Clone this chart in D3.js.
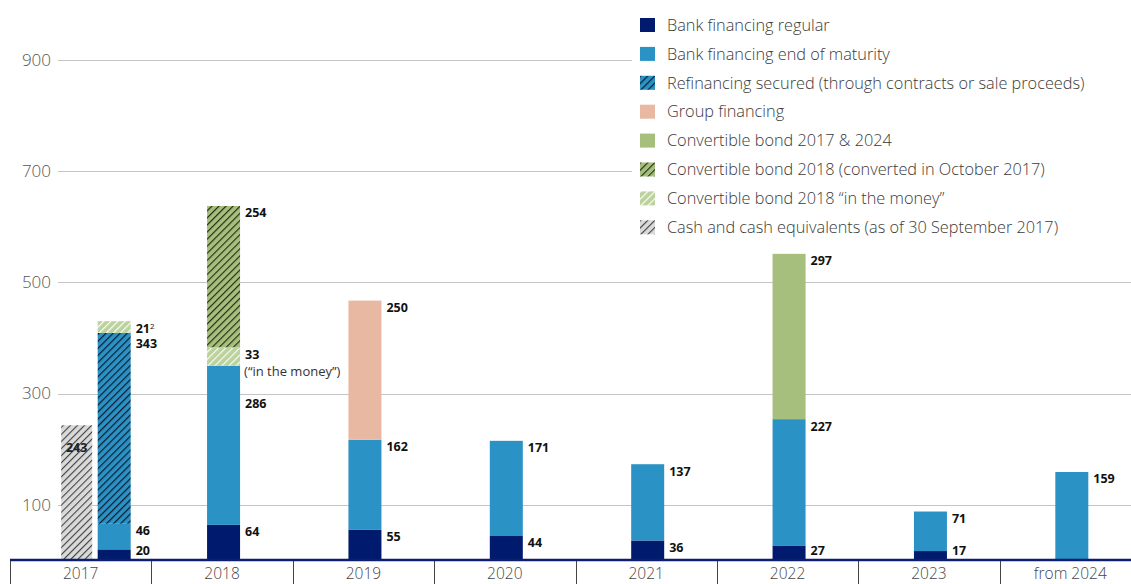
<!DOCTYPE html>
<html>
<head>
<meta charset="utf-8">
<script src="https://cdn.jsdelivr.net/npm/d3@7"></script>
<style>
  body { margin: 0; background: #fff; }
  svg { display: block; font-family: "Open Sans", sans-serif; }
</style>
</head>
<body>
<svg width="1131" height="584"></svg>
<script>
// categories (maturity years)
var categories = ["2017", "2018", "2019", "2020", "2021", "2022", "2023", "from 2024"];

// series values (EUR m), stacked bottom -> top
var bankRegular   = [20, 64, 55, 44, 36, 27, 17, 0];
var bankMaturity  = [46, 286, 162, 171, 137, 227, 71, 159];
var refinancing   = [343, 0, 0, 0, 0, 0, 0, 0];
var groupFin      = [0, 0, 250, 0, 0, 0, 0, 0];
var convInMoney   = [21, 33, 0, 0, 0, 0, 0, 0];
var convConverted = [0, 254, 0, 0, 0, 0, 0, 0];
var convBond      = [0, 0, 0, 0, 0, 297, 0, 0];
// separate bar in 2017
var cash = [243, 0, 0, 0, 0, 0, 0, 0];

var yTicks = [100, 300, 500, 700, 900];

var legendNames = [
    "Bank financing regular",
    "Bank financing end of maturity",
    "Refinancing secured (through contracts or sale proceeds)",
    "Group financing",
    "Convertible bond 2017 & 2024",
    "Convertible bond 2018 (converted in October 2017)",
    "Convertible bond 2018 \u201cin the money\u201d",
    "Cash and cash equivalents (as of 30 September 2017)"
];

var svg = d3.select("svg");
var defs = svg.append("defs");

// hatch patterns
function hatch(id, bg, lineColor, w) {
    var p = defs.append("pattern")
        .attr("id", id)
        .attr("patternUnits", "userSpaceOnUse")
        .attr("width", 5).attr("height", 5)
        .attr("patternTransform", "rotate(45)");
    p.append("rect").attr("width", 5).attr("height", 5).attr("fill", bg);
    p.append("line").attr("x1", 0.6).attr("y1", 0).attr("x2", 0.6).attr("y2", 5)
        .attr("stroke", lineColor).attr("stroke-width", w);
}
hatch("h-refi", "#2a92c4", "#0b1a30", 1.2);
hatch("h-conv", "#a6bf7c", "#1c2410", 1.1);
hatch("h-money", "#bcd29c", "#ffffff", 1.1);
hatch("h-cash", "#dadada", "#333333", 1);

var series = [
    { key: "regular",   values: bankRegular,   fill: "#001b6e" },
    { key: "maturity",  values: bankMaturity,  fill: "#2a92c4" },
    { key: "refi",      values: refinancing,   fill: "url(#h-refi)" },
    { key: "group",     values: groupFin,      fill: "#e8b8a3" },
    { key: "inmoney",   values: convInMoney,   fill: "url(#h-money)" },
    { key: "converted", values: convConverted, fill: "url(#h-conv)" },
    { key: "bond",      values: convBond,      fill: "#a6bf7c" }
];
var legendFills = ["#001b6e", "#2a92c4", "url(#h-refi)", "#e8b8a3", "#a6bf7c", "url(#h-conv)", "url(#h-money)", "url(#h-cash)"];

// scales
var x = d3.scaleBand().domain(categories).range([10, 1141]).padding(0);
var y = d3.scaleLinear().domain([0, 900]).range([560.5, 59.6]);
var barW = 33;

function barX(cat) {
    if (cat === "2017") return x(cat) + x.bandwidth() / 2 + 17;
    return x(cat) + x.bandwidth() / 2 - 15;
}

// gridlines + y labels
var grid = svg.append("g");
grid.selectAll("line").data(yTicks).enter().append("line")
    .attr("x1", 58).attr("x2", 1131)
    .attr("y1", function(d) { return Math.round(y(d)) + 0.5; })
    .attr("y2", function(d) { return Math.round(y(d)) + 0.5; })
    .attr("stroke", "#c4c4c4").attr("stroke-width", 1.2);
grid.selectAll("text").data(yTicks).enter().append("text")
    .attr("x", 51).attr("y", function(d) { return y(d); })
    .attr("dy", "0.35em")
    .attr("text-anchor", "end")
    .attr("fill", "#555").attr("font-size", 17).attr("font-weight", 300)
    .text(function(d) { return d; });

// stack
var rows = categories.map(function(c, i) {
    var r = { cat: c };
    series.forEach(function(s) { r[s.key] = s.values[i]; });
    return r;
});
var stack = d3.stack().keys(series.map(function(s) { return s.key; }));
var stacked = stack(rows);

var bars = svg.append("g");
stacked.forEach(function(layer, li) {
    bars.selectAll(null).data(layer.filter(function(d) { return d[1] - d[0] > 0; }))
        .enter().append("rect")
        .attr("x", function(d) { return barX(d.data.cat); })
        .attr("width", barW)
        .attr("y", function(d) { return y(d[1]); })
        .attr("height", function(d) { return y(d[0]) - y(d[1]); })
        .attr("fill", series[li].fill);
});

// cash bar (2017)
bars.append("rect")
    .attr("x", x("2017") + x.bandwidth() / 2 - 19.5)
    .attr("width", 31)
    .attr("y", y(cash[0]))
    .attr("height", y(0) - y(cash[0]))
    .attr("fill", "url(#h-cash)");
svg.append("text")
    .attr("x", x("2017") + x.bandwidth() / 2 - 4)
    .attr("y", y(cash[0]) + 22)
    .attr("dy", "0.35em")
    .attr("text-anchor", "middle")
    .attr("font-size", 12.5).attr("font-weight", 700)
    .attr("fill", "#222")
    .text(cash[0]);

// value labels
var labelShift = { "2017-refi": 11, "2018-maturity": 38 };
var labels = svg.append("g").attr("font-size", 12.5).attr("font-weight", 700).attr("fill", "#111");
stacked.forEach(function(layer, li) {
    layer.forEach(function(d) {
        var v = d[1] - d[0];
        if (v <= 0) return;
        var cat = d.data.cat;
        var key = series[li].key;
        var cy = y(d[1]) + (labelShift[cat + "-" + key] || 7);
        cy = Math.min(cy, 551);
        var t = labels.append("text")
            .attr("x", barX(cat) + barW + 5)
            .attr("y", cy)
            .attr("dy", "0.35em")
            .text(v);
        if (cat === "2017" && key === "inmoney") {
            t.append("tspan").attr("dy", "-0.45em").attr("font-size", 8).attr("font-weight", 400).text("2");
        }
        if (cat === "2018" && key === "inmoney") {
            labels.append("text")
                .attr("x", barX(cat) + barW + 4)
                .attr("y", cy + 17)
                .attr("dy", "0.35em")
                .attr("font-weight", 400).attr("font-size", 13).attr("fill", "#333")
                .text("(\u201cin the money\u201d)");
        }
    });
});

// baseline and category cells
var axis = svg.append("g");
axis.append("line")
    .attr("x1", 10).attr("x2", 1131).attr("y1", 560).attr("y2", 560)
    .attr("stroke", "#0c1f6e").attr("stroke-width", 2.5);
axis.selectAll(".sep").data(categories).enter().append("line")
    .attr("x1", function(d) { return Math.round(x(d)) + 0.5; })
    .attr("x2", function(d) { return Math.round(x(d)) + 0.5; })
    .attr("y1", 561).attr("y2", 584)
    .attr("stroke", "#444").attr("stroke-width", 1);
axis.selectAll(".cat").data(categories).enter().append("text")
    .attr("x", function(d) { return x(d) + x.bandwidth() / 2; })
    .attr("y", 579)
    .attr("text-anchor", "middle")
    .attr("fill", "#444").attr("font-size", 15.5).attr("font-weight", 300)
    .text(function(d) { return d; });

// legend (white box over gridlines)
var legend = svg.append("g");
legend.append("rect").attr("x", 632).attr("y", 0).attr("width", 499).attr("height", 245).attr("fill", "#fff");
var li = legend.selectAll(".item").data(legendNames).enter().append("g")
    .attr("transform", function(d, i) { return "translate(640," + (18 + i * 28.9) + ")"; });
li.append("rect").attr("width", 15).attr("height", 14)
    .attr("fill", function(d, i) { return legendFills[i]; });
li.append("text").attr("x", 27).attr("y", 7).attr("dy", "0.35em")
    .attr("fill", "#3a3a3a").attr("font-size", 16.3).attr("font-weight", 300)
    .text(function(d) { return d; });
</script>
</body>
</html>
